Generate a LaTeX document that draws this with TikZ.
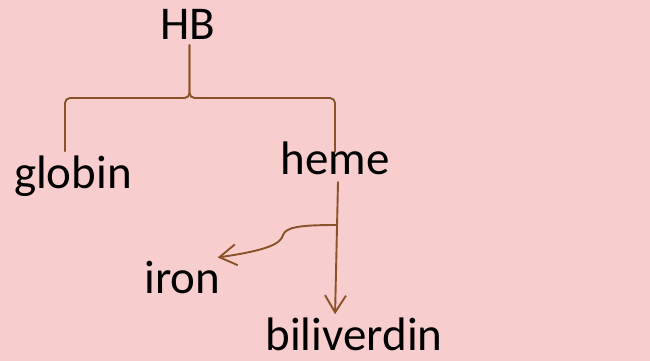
\documentclass[tikz,border=0pt]{standalone}
\usepackage{fontspec}
\setmainfont{Carlito}
\usetikzlibrary{arrows.meta,calc}
\definecolor{bgColor}{HTML}{F7CDCD}
\definecolor{linkColor}{HTML}{8A5228}
\tikzset{word/.style={text=black,inner sep=0pt,anchor=base,font=\fontsize{47}{50}\selectfont}}
\tikzset{link/.style={draw=linkColor,line width=1.9pt,line cap=round,line join=round}}
\tikzset{tip/.style={-{Straight Barb[length=17pt,width=21pt]}}}
\begin{document}
\begin{tikzpicture}[x=1pt,y=-1pt]
			\useasboundingbox[fill=bgColor] (0,0) rectangle (650,361);
			\node[word] at (187.5,40) (hb) {HB};
			\node[word] at (73,188) (globin) {globin};
			\node[word] at (335,174) (heme) {heme};
			\node[word] at (182.5,293) (iron) {iron};
			\node[word] at (354,350) (biliverdin) {biliverdin};
			\coordinate (fork) at (189.5,98);
			\coordinate (hemefoot) at (338,182);
			\coordinate (branch) at (337,225);
			% bracket
			\draw[link,rounded corners=5pt] (globin.north -| 65,0) ++(0,-4) |- (fork) -- (fork |- 0,45);
			\draw[link,rounded corners=5pt] (335,152) |- (fork) -- (fork |- 0,45);
			\path (hemefoot) edge[link,tip,shorten >=3pt] (biliverdin.north -| 335,0);
			\draw[link,tip] (branch) .. controls (300,225) and (286,227) .. (283,235)
				.. controls (281,243) and (270,250) .. ($(iron.north east)+(-3,-3)$);
\end{tikzpicture}
\end{document}
